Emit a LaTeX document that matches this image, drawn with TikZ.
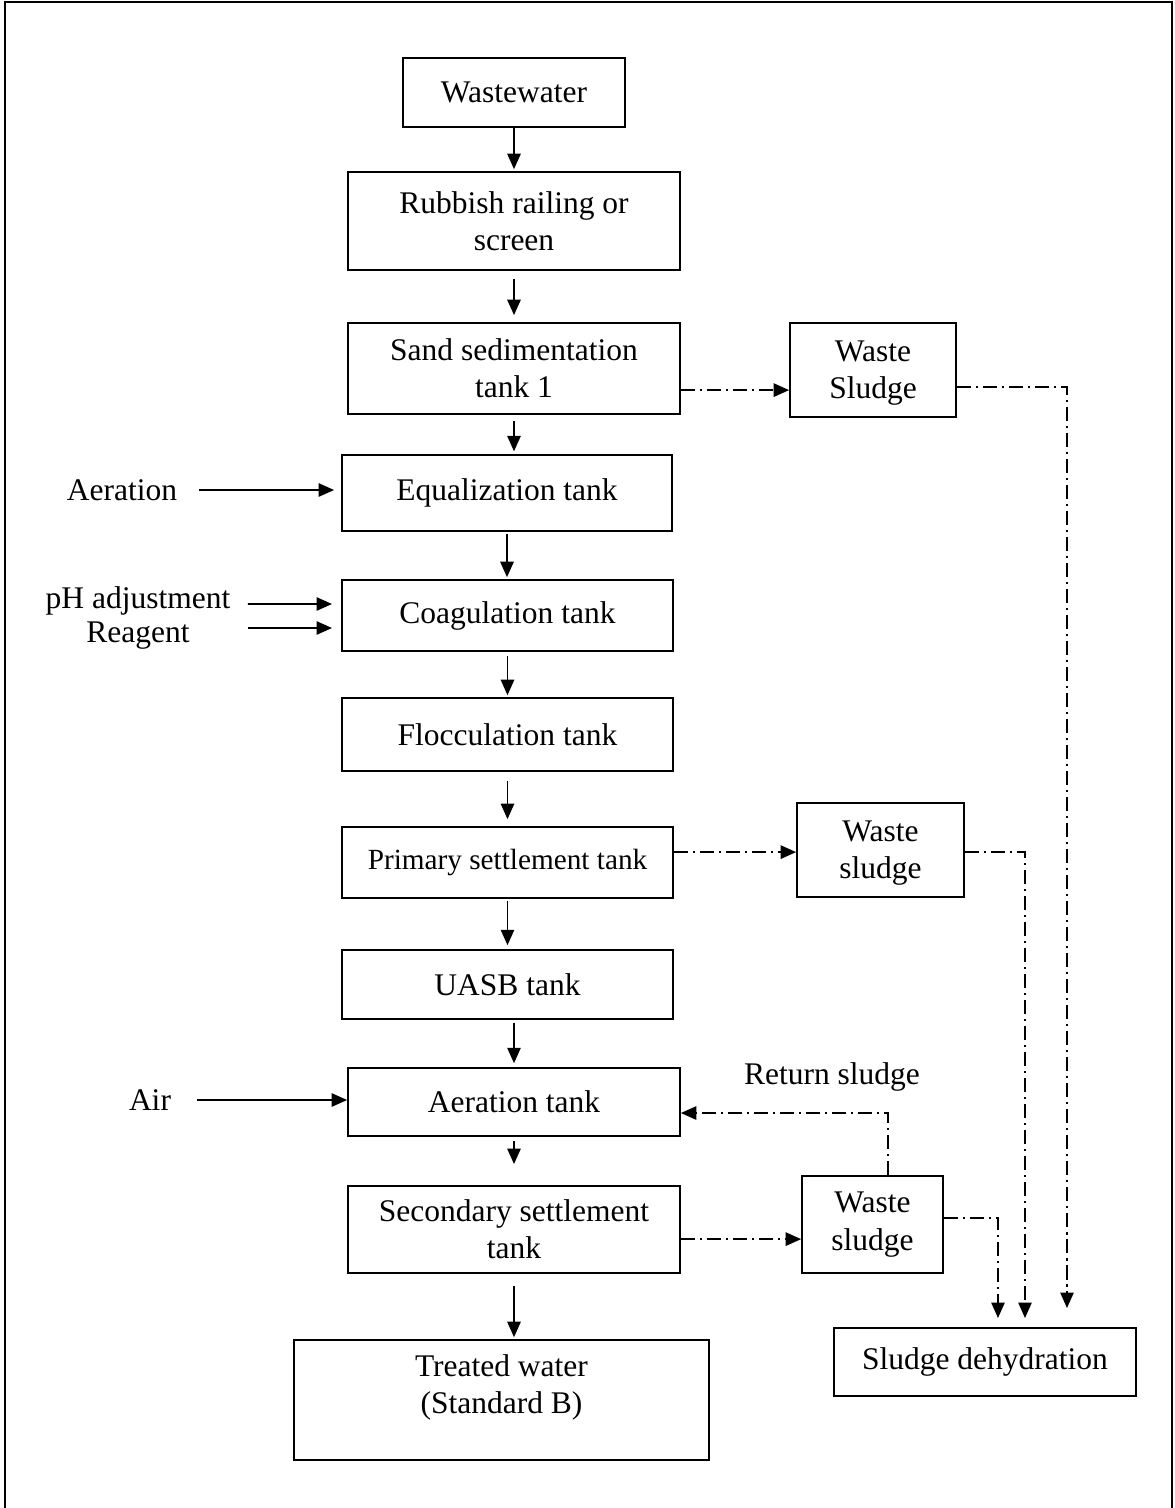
\documentclass[tikz,border=0pt]{standalone}
\usepackage{fontspec}
\setmainfont{Liberation Serif}
\usetikzlibrary{arrows.meta}
\begin{document}
\begin{tikzpicture}[x=0.025cm,y=-0.025cm,line width=1.2pt,font=\fontsize{22.4}{26.5}\selectfont,
  box/.style={draw,align=center,inner sep=0pt},
  arr/.style={-{Triangle[length=11pt,width=9.5pt]}},
  dd/.style={dash pattern=on 10pt off 3.5pt on 1.5pt off 3.5pt}]
\useasboundingbox (0,0) rectangle (1175,1508);
\draw (5,1508)--(5,2)--(1172,2)--(1172,1508);
\node[box,minimum width=5.55cm,minimum height=1.725cm] (ww) at (514,92.5) {Wastewater};
\node[box,minimum width=8.3cm,minimum height=2.45cm] (rub) at (514,221) {Rubbish railing or\\screen};
\node[box,minimum width=8.3cm,minimum height=2.275cm] (sand) at (514,368.5) {Sand sedimentation\\tank 1};
\node[box,minimum width=4.15cm,minimum height=2.35cm,text depth=0pt] (ws1) at (873,370) {Waste\\Sludge};
\node[box,minimum width=8.25cm,minimum height=1.9cm] (eq) at (507,493) {Equalization tank};
\node[box,minimum width=8.275cm,minimum height=1.775cm] (coag) at (507.5,615.5) {Coagulation tank};
\node[box,minimum width=8.275cm,minimum height=1.825cm] (floc) at (507.5,734.5) {Flocculation tank};
\node[box,minimum width=8.275cm,minimum height=1.775cm,font=\fontsize{20.8}{24}\selectfont] (prim) at (507.5,862.5) {Primary settlement tank};
\node[box,minimum width=4.175cm,minimum height=2.35cm,text depth=0pt] (ws2) at (880.5,850) {Waste\\sludge};
\node[box,minimum width=8.275cm,minimum height=1.725cm] (uasb) at (507.5,984.5) {UASB tank};
\node[box,minimum width=8.3cm,minimum height=1.7cm] (aer) at (514,1102) {Aeration tank};
\node[box,minimum width=8.3cm,minimum height=2.175cm] (sec) at (514,1229.5) {Secondary settlement\\tank};
\node[box,minimum width=3.525cm,minimum height=2.425cm] (ws3) at (872.5,1224.5) {Waste\\sludge};
\node[box,minimum width=10.375cm,minimum height=3cm,text depth=0.8cm] (treat) at (501.5,1400) {Treated water\\(Standard B)};
\node[box,minimum width=7.55cm,minimum height=1.7cm] (dehy) at (985,1362) {Sludge dehydration};
\node (laer) at (122,490) {Aeration};
\node (lph) at (138,601) {pH adjustment};
\node (lrea) at (138,636) {Reagent};
\node (lair) at (150,1100) {Air};
\node (lret) at (832,1077) {Return sludge};
\draw[arr,shorten >=1.4pt] (ww.south) -- (ww.south |- rub.north);
\draw[arr,shorten <=5.7pt,shorten >=5pt] (rub.south) -- (rub.south |- sand.north);
\draw[arr,shorten <=4.3pt,shorten >=2pt] (sand.south) -- (sand.south |- eq.north);
\draw[arr,shorten <=1.4pt,shorten >=1.4pt] (eq.south) -- (eq.south |- coag.north);
\draw[arr,shorten <=2.8pt,shorten >=1.4pt] (coag.south) -- (coag.south |- floc.north);
\draw[arr,shorten <=6.4pt,shorten >=5pt] (floc.south) -- (floc.south |- prim.north);
\draw[arr,shorten <=1.4pt,shorten >=2.8pt] (prim.south) -- (prim.south |- uasb.north);
\draw[arr,shorten <=2pt,shorten >=2.8pt] (aer.north |- uasb.south) -- (aer.north);
\draw[arr,shorten <=2.8pt,shorten >=15pt] (aer.south) -- (aer.south |- sec.north);
\draw[arr,shorten <=8.5pt,shorten >=1.4pt] (sec.south) -- (sec.south |- treat.north);
\draw[arr,shorten <=0.4cm,shorten >=5pt] (laer.east) -- (eq.west |- laer.east);
\draw[arr,shorten >=6.5pt] ([yshift=-0.075cm]lph.east) ++(12,0) -- (coag.west |- 0,604);
\draw[arr,shorten >=6.5pt] (lph.east |- 0,628) ++(12,0) -- (coag.west |- 0,628);
\draw[arr,shorten <=0.5cm] (lair.east) -- (aer.west |- lair.east);
\coordinate (s1) at ([yshift=-0.54cm]sand.east);
\coordinate (w1) at ([yshift=-0.425cm]ws1.east);
\coordinate (d1) at (1067,1308);
\coordinate (p1) at ([yshift=0.26cm]prim.east);
\coordinate (w2) at ([yshift=-0.05cm]ws2.east);
\coordinate (d2) at (1025,1318);
\coordinate (s3) at ([yshift=-0.24cm]sec.east);
\coordinate (w3) at ([yshift=0.16cm]ws3.east);
\coordinate (d3) at (998,1318);
\coordinate (r3) at ([xshift=0.39cm]ws3.north);
\draw[dd,arr] (s1) -- (s1 -| ws1.west);
\draw[dd,arr] (w1) -| (d1);
\draw[dd,arr] (p1) -- (p1 -| ws2.west);
\draw[dd,arr] (w2) -| (d2);
\draw[dd,arr] (s3) -- (s3 -| ws3.west);
\draw[dd,arr] (w3) -| (d3);
\draw[dd,arr] (r3) |- ([yshift=-0.275cm]aer.east);
\end{tikzpicture}
\end{document}
